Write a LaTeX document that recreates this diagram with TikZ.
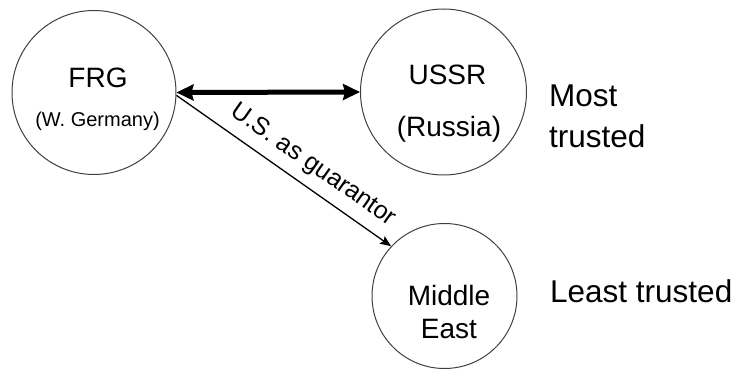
\documentclass[tikz,border=0pt]{standalone}
\usepackage{fontspec}
\setmainfont{Liberation Sans}
\usepackage{tikz}
\usetikzlibrary{arrows.meta, positioning}
\tikzstyle{country} = [circle, draw=black!75, line width=1pt, inner sep=0pt]
\tikzstyle{cname} = [anchor=base, inner sep=0pt, align=center]
\tikzstyle{trust} = [font=\fontsize{31.5}{41}\selectfont, anchor=base west, inner sep=0pt, align=left]
\tikzstyle{pact} = [line width=5pt, {Stealth[length=17pt,width=16pt,inset=2pt]}-{Stealth[length=17pt,width=16pt,inset=2pt]}]
\tikzstyle{guard} = [line width=1.3pt, -{Stealth[length=11pt,width=9pt,inset=2pt]}]

\begin{document}
\begin{tikzpicture}[x=1pt, y=1pt]
            \useasboundingbox (0,0) rectangle (737,370);
            \node[country, minimum size=164pt] (frg) at (94,277.5) {};
            \node[country, minimum size=166pt] (ussr) at (443.5,278) {};
            \node[country, minimum size=145pt] (mideast) at (444.5,74) {};

            \node[cname, font=\fontsize{28}{28}\selectfont] (frgname) at (98,282) {FRG};
            \node[cname, font=\fontsize{20}{20}\selectfont] (frgsub) at (97.5,243) {(W. Germany)};
            \node[cname, font=\fontsize{28}{28}\selectfont] (ussrname) at (447.5,285) {USSR};
            \node[cname, font=\fontsize{28}{28}\selectfont] (ussrsub) at (449,233) {(Russia)};
            \node[cname, font=\fontsize{28}{33}\selectfont] (mename) at (449,32) {Middle\\East};

            \node[trust] (most) at (549,222) {Most\\trusted};
            \node[trust] (least) at (550,67) {Least trusted};

            \draw[pact] (frg.east) -- (ussr.west);
            \draw[guard] (frg.-2) -- node[sloped, above=6pt, pos=0.58, font=\fontsize{25}{25}\selectfont] (guarantor) {U.S. as guarantor} (mideast.137);
        \end{tikzpicture}
\end{document}
